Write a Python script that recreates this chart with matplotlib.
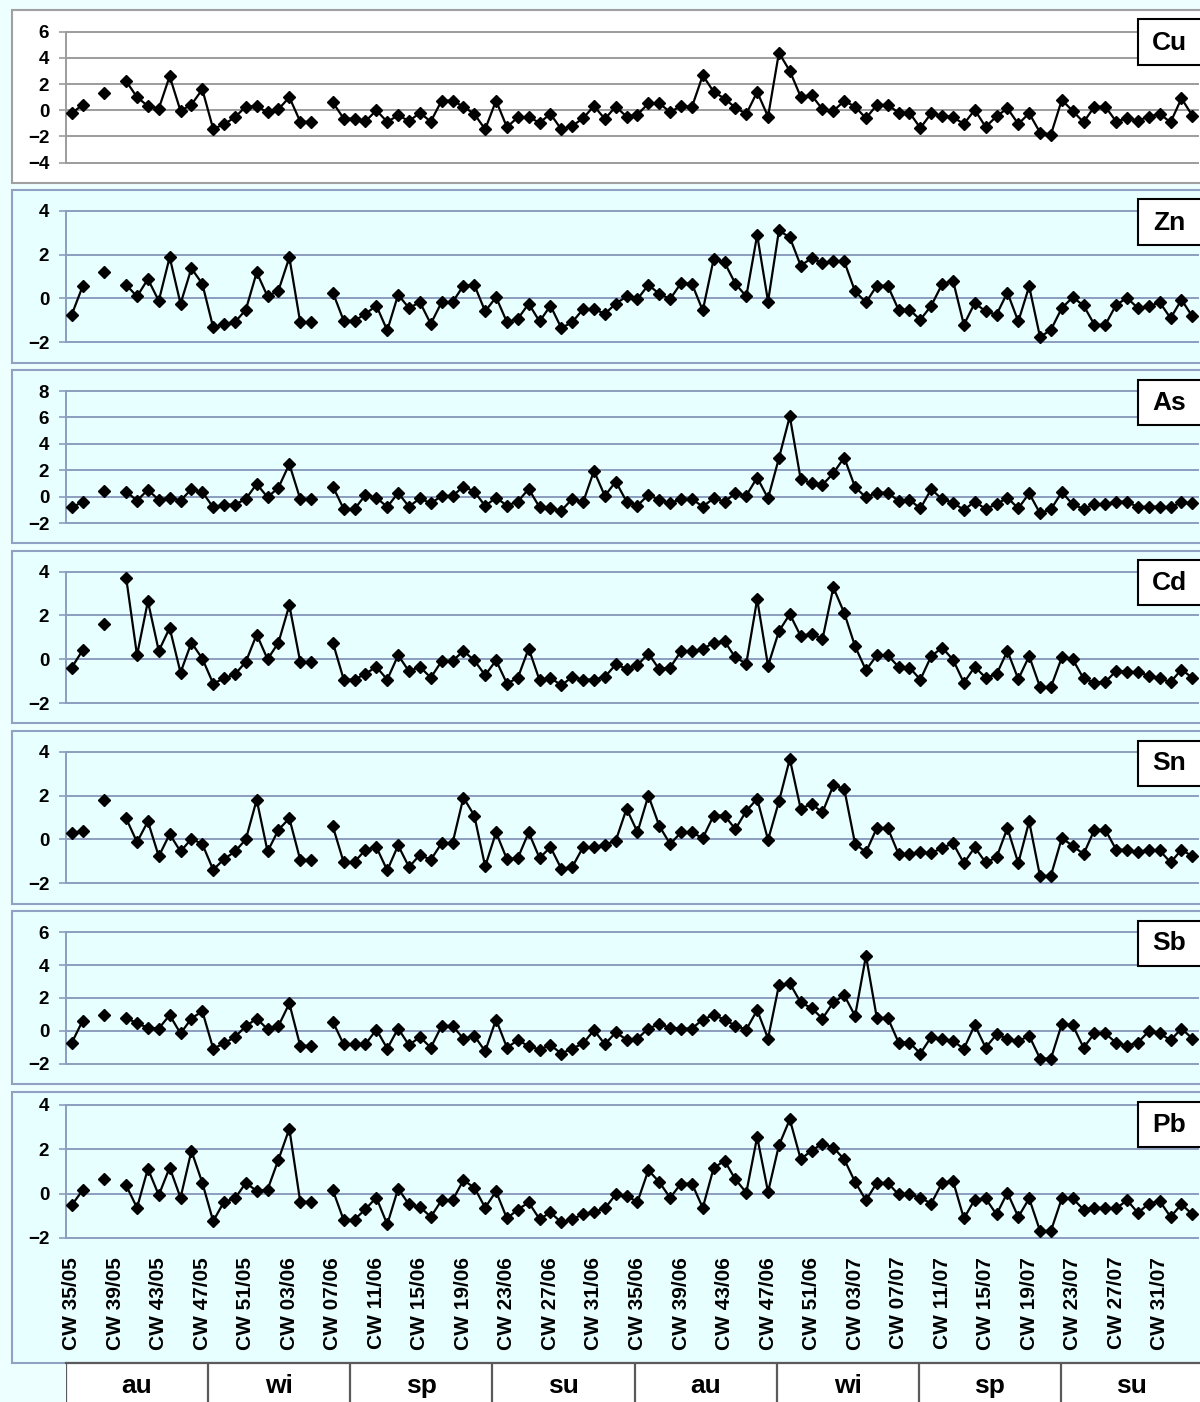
import numpy as np
import matplotlib
matplotlib.use("Agg")
import matplotlib.pyplot as plt
from matplotlib.patches import Rectangle

plt.rcParams["font.family"] = ["Liberation Sans", "DejaVu Sans"]
plt.rcParams["font.weight"] = "bold"

nan = float("nan")

# weekly standardized values, CW 35/05 .. CW 34/07 (nan = no sample)
cu = [-0.23, 0.43, nan, 1.35, nan, 2.23, 1.0, 0.33, 0.13, 2.6, -0.05, 0.43, 1.6,
      -1.42, -1.07, -0.53, 0.28, 0.3, -0.15, 0.08, 1.0, -0.86, -0.89, nan, 0.6, -0.63,
      -0.63, -0.84, 0.0, -0.89, -0.38, -0.82, -0.2, -0.86, 0.74, 0.74, 0.28, -0.28, -1.45,
      0.74, -1.29, -0.53, -0.53, -0.94, -0.28, -1.45, -1.19, -0.61, 0.33, -0.66, 0.28, -0.48,
      -0.33, 0.53, 0.53, -0.13, 0.33, 0.25, 2.66, 1.42, 0.89, 0.2, -0.28, 1.4, -0.48,
      4.39, 3.0, 1.04, 1.15, 0.08, -0.05, 0.71, 0.28, -0.61, 0.41, 0.41, -0.18, -0.18,
      -1.35, -0.23, -0.41, -0.53, -1.04, 0.03, -1.27, -0.46, 0.15, -1.04, -0.23, -1.7,
      -1.85, 0.79, -0.05, -0.91, 0.28, 0.28, -0.86, -0.61, -0.79, -0.48, -0.28, -0.91,
      0.91, -0.41]
zn = [-0.74, 0.55, nan, 1.19, nan, 0.62, 0.09, 0.88, -0.11, 1.88, -0.24, 1.37, 0.67,
      -1.32, -1.16, -1.08, -0.52, 1.19, 0.09, 0.36, 1.87, -1.09, -1.09, nan, 0.27, -1.02,
      -1.02, -0.7, -0.33, -1.46, 0.17, -0.44, -0.17, -1.16, -0.17, -0.17, 0.58, 0.62, -0.59,
      0.06, -1.08, -0.93, -0.24, -1.05, -0.33, -1.35, -1.08, -0.49, -0.49, -0.7, -0.24, 0.09,
      -0.03, 0.62, 0.21, -0.03, 0.7, 0.67, -0.55, 1.79, 1.64, 0.67, 0.09, 2.89, -0.14,
      3.1, 2.78, 1.5, 1.83, 1.61, 1.72, 1.69, 0.32, -0.18, 0.58, 0.58, -0.52, -0.52,
      -0.97, -0.33, 0.65, 0.81, -1.2, -0.21, -0.59, -0.74, 0.27, -1.05, 0.55, -1.76,
      -1.43, -0.44, 0.05, -0.32, -1.2, -1.2, -0.29, 0.02, -0.44, -0.36, -0.18, -0.9,
      -0.06, -0.82]
as_ = [-0.81, -0.41, nan, 0.43, nan, 0.38, -0.3, 0.51, -0.25, -0.08, -0.3, 0.56, 0.35,
       -0.81, -0.61, -0.61, -0.18, 0.96, -0.05, 0.68, 2.46, -0.18, -0.18, nan, 0.76, -0.94,
       -0.94, 0.13, -0.08, -0.78, 0.28, -0.76, -0.13, -0.51, 0.05, 0.05, 0.76, 0.38, -0.71,
       -0.08, -0.68, -0.38, 0.58, -0.81, -0.89, -1.06, -0.18, -0.43, 1.95, 0.05, 1.14, -0.38,
       -0.68, 0.13, -0.25, -0.51, -0.18, -0.18, -0.76, -0.13, -0.38, 0.25, 0.08, 1.44, -0.13,
       2.91, 6.08, 1.32, 1.01, 0.89, 1.77, 2.96, 0.71, -0.05, 0.3, 0.3, -0.33, -0.25,
       -0.89, 0.56, -0.2, -0.46, -1.01, -0.38, -0.94, -0.58, -0.08, -0.89, 0.25, -1.27,
       -0.96, 0.33, -0.58, -0.94, -0.58, -0.58, -0.38, -0.38, -0.81, -0.76, -0.76, -0.81,
       -0.43, -0.51]
cd = [-0.38, 0.41, nan, 1.62, nan, 3.73, 0.18, 2.65, 0.38, 1.43, -0.61, 0.76, 0.03,
      -1.11, -0.88, -0.69, -0.12, 1.13, 0.0, 0.76, 2.47, -0.12, -0.12, nan, 0.76, -0.93,
      -0.93, -0.66, -0.35, -0.93, 0.18, -0.55, -0.35, -0.84, -0.09, -0.08, 0.38, -0.05, -0.73,
      -0.05, -1.11, -0.85, 0.49, -0.96, -0.85, -1.19, -0.81, -0.93, -0.93, -0.81, -0.24, -0.43,
      -0.27, 0.26, -0.46, -0.38, 0.37, 0.37, 0.46, 0.76, 0.82, 0.08, -0.2, 2.74, -0.3,
      1.28, 2.06, 1.06, 1.17, 0.91, 3.28, 2.12, 0.59, -0.5, 0.18, 0.18, -0.35, -0.38,
      -0.93, 0.14, 0.53, -0.02, -1.07, -0.35, -0.84, -0.69, 0.38, -0.91, 0.14, -1.27,
      -1.27, 0.08, 0.0, -0.88, -1.07, -1.04, -0.53, -0.58, -0.58, -0.76, -0.88, -1.04,
      -0.47, -0.85]
sn = [0.29, 0.38, nan, 1.81, nan, 0.96, -0.12, 0.82, -0.77, 0.24, -0.55, 0.03, -0.21,
      -1.38, -0.9, -0.55, 0.0, 1.81, -0.55, 0.44, 0.96, -0.93, -0.93, nan, 0.59, -1.05,
      -1.02, -0.47, -0.35, -1.41, -0.27, -1.26, -0.7, -0.93, -0.17, -0.17, 1.91, 1.09, -1.23,
      0.32, -0.9, -0.85, 0.32, -0.85, -0.35, -1.34, -1.26, -0.35, -0.35, -0.24, -0.06, 1.4,
      0.33, 2.0, 0.62, -0.21, 0.32, 0.32, 0.06, 1.09, 1.09, 0.47, 1.3, 1.85, -0.02,
      1.73, 3.67, 1.4, 1.61, 1.23, 2.46, 2.31, -0.2, -0.58, 0.52, 0.52, -0.67, -0.67,
      -0.58, -0.62, -0.39, -0.17, -1.08, -0.36, -1.05, -0.82, 0.52, -1.08, 0.82, -1.68,
      -1.65, 0.06, -0.29, -0.67, 0.44, 0.44, -0.47, -0.47, -0.58, -0.47, -0.5, -1.05,
      -0.47, -0.77]
sb = [-0.73, 0.61, nan, 0.96, nan, 0.81, 0.45, 0.2, 0.14, 0.96, -0.16, 0.75, 1.2,
      -1.08, -0.77, -0.37, 0.28, 0.75, 0.1, 0.3, 1.67, -0.91, -0.91, nan, 0.55, -0.83,
      -0.83, -0.81, 0.08, -1.08, 0.14, -0.87, -0.37, -1.02, 0.3, 0.3, -0.47, -0.3, -1.24,
      0.69, -1.02, -0.57, -0.93, -1.14, -0.87, -1.38, -1.08, -0.77, 0.04, -0.81, -0.1, -0.53,
      -0.47, 0.14, 0.41, 0.18, 0.14, 0.14, 0.69, 0.96, 0.69, 0.3, 0.08, 1.26, -0.47,
      2.78, 2.89, 1.73, 1.38, 0.75, 1.73, 2.17, 0.91, 4.57, 0.79, 0.79, -0.71, -0.71,
      -1.38, -0.37, -0.51, -0.63, -1.08, 0.35, -1.02, -0.22, -0.47, -0.63, -0.3, -1.69,
      -1.69, 0.41, 0.35, -1.02, -0.16, -0.16, -0.73, -0.91, -0.71, -0.02, -0.16, -0.57,
      0.14, -0.47]
pb = [-0.52, 0.15, nan, 0.67, nan, 0.37, -0.64, 1.12, -0.07, 1.17, -0.19, 1.92, 0.49,
      -1.24, -0.37, -0.22, 0.48, 0.12, 0.18, 1.53, 2.92, -0.37, -0.37, nan, 0.15, -1.2,
      -1.17, -0.7, -0.18, -1.39, 0.22, -0.49, -0.6, -1.05, -0.3, -0.3, 0.6, 0.27, -0.63,
      0.1, -1.12, -0.72, -0.4, -1.15, -0.85, -1.3, -1.15, -0.93, -0.82, -0.67, -0.04, -0.12,
      -0.37, 1.05, 0.52, -0.19, 0.45, 0.45, -0.64, 1.15, 1.48, 0.64, 0.04, 2.55, 0.07,
      2.17, 3.34, 1.55, 1.93, 2.25, 2.07, 1.54, 0.52, -0.3, 0.48, 0.48, -0.04, -0.04,
      -0.19, -0.45, 0.49, 0.57, -1.12, -0.27, -0.22, -0.94, 0.04, -1.05, -0.22, -1.68,
      -1.68, -0.22, -0.22, -0.72, -0.64, -0.64, -0.67, -0.3, -0.87, -0.45, -0.34, -1.05,
      -0.48, -0.94]

elements = ["Cu", "Zn", "As", "Cd", "Sn", "Sb", "Pb"]
series = [cu, zn, as_, cd, sn, sb, pb]
y_limits = [(-4, 6), (-2, 4), (-2, 8), (-2, 4), (-2, 4), (-2, 6), (-2, 4)]

week_labels = ["CW 35/05", "CW 39/05", "CW 43/05", "CW 47/05", "CW 51/05", "CW 03/06",
               "CW 07/06", "CW 11/06", "CW 15/06", "CW 19/06", "CW 23/06", "CW 27/06",
               "CW 31/06", "CW 35/06", "CW 39/06", "CW 43/06", "CW 47/06", "CW 51/06",
               "CW 03/07", "CW 07/07", "CW 11/07", "CW 15/07", "CW 19/07", "CW 23/07",
               "CW 27/07", "CW 31/07"]
seasons = ["au", "wi", "sp", "su", "au", "wi", "sp", "su"]

# panel geometry in pixels: (box top, box bottom, plot top, plot bottom)
panel_px = [(10, 183, 31.7, 162.7),
            (190, 363, 210.7, 342.3),
            (370, 543, 391, 523),
            (551, 723, 571.7, 703),
            (731, 904, 751.7, 883.3),
            (911, 1084, 932.3, 1063.7),
            (1092, 1363, 1104.7, 1238)]

W, H = 1200, 1402
CYAN = "#E8FFFF"
PAGE = "#EEFFFF"
BLUE_GRID = "#8C9DBE"
GREY_GRID = "#9C9C9C"

fig = plt.figure(figsize=(W / 100, H / 100), dpi=100, facecolor=PAGE)


def fig_rect(left, top, right, bottom):
    return [left / W, 1 - bottom / H, (right - left) / W, (bottom - top) / H]


def add_box(left, top, right, bottom, face, edge, lw, z):
    l, b, w, h = fig_rect(left, top, right, bottom)
    fig.add_artist(Rectangle((l, b), w, h, transform=fig.transFigure,
                             facecolor=face, edgecolor=edge, linewidth=lw, zorder=z))


n_weeks = len(cu)
x = np.arange(n_weeks)

for k, (name, vals, (ymin, ymax), geo) in enumerate(zip(elements, series, y_limits, panel_px)):
    box_top, box_bot, plot_top, plot_bot = geo
    first = k == 0
    grid_col = GREY_GRID if first else BLUE_GRID
    add_box(11.7, box_top, 1215, box_bot, "white" if first else CYAN,
            "#A0A0A0" if first else "#8FA2C4", 1.5, -2)

    ax = fig.add_axes(fig_rect(66.3, plot_top, 1197.8, plot_bot))
    ax.set_facecolor("none")
    ax.plot(x, vals, "-D", color="black", lw=1.6, ms=5.7, clip_on=False, zorder=3)
    ax.set_xlim(-0.5, n_weeks - 0.5)
    ax.set_ylim(ymin, ymax)
    ax.set_yticks(np.arange(ymin, ymax + 1, 2))
    for side in ["top", "right", "bottom"]:
        ax.spines[side].set_visible(False)
    ax.spines["left"].set_color(grid_col)
    ax.spines["left"].set_linewidth(1.4)
    ax.yaxis.grid(True, color=grid_col, lw=1.4)
    for gl in ax.get_ygridlines():
        gl.set_clip_on(False)
    ax.set_axisbelow(True)
    ax.tick_params(axis="y", direction="out", length=4.8, width=1.2, color=grid_col,
                   pad=7.5, labelsize=13.5)
    for t in ax.get_yticklabels():
        t.set_fontweight("bold")

    if k == len(elements) - 1:
        ax.set_xticks(np.arange(0, n_weeks, 4))
        ax.set_xticklabels(week_labels, rotation=90, fontsize=15, fontweight="bold",
                           ha="center", va="top")
        ax.tick_params(axis="x", length=0, pad=13.5)
    else:
        ax.set_xticks([])

    # element name tag in the upper right corner
    add_box(1138, box_top + 9.5, 1215, box_top + 54.5, "white", "black", 1.5, 5)
    fig.text(1169 / W, 1 - (box_top + 32.5) / H, name, fontsize=19, fontweight="bold",
             ha="center", va="center", zorder=6)

# season band below the week axis
sax = fig.add_axes(fig_rect(66, 1363, 1203, 1410))
sax.set_xlim(0, len(seasons))
sax.set_ylim(0, 1)
sax.set_facecolor("white")
sax.set_xticks([])
sax.set_yticks([])
for side in sax.spines:
    sax.spines[side].set_visible(False)
sax.axhline(1, color="#5A5A5A", lw=1.6, clip_on=False)
for j in range(len(seasons) + 1):
    sax.axvline(j, color="#5A5A5A", lw=1.6)
for j, s in enumerate(seasons):
    sax.text(j + 0.5, 0.52, s, fontsize=19, fontweight="bold", ha="center", va="center")

fig.savefig("out.png", dpi=100, facecolor=fig.get_facecolor())
